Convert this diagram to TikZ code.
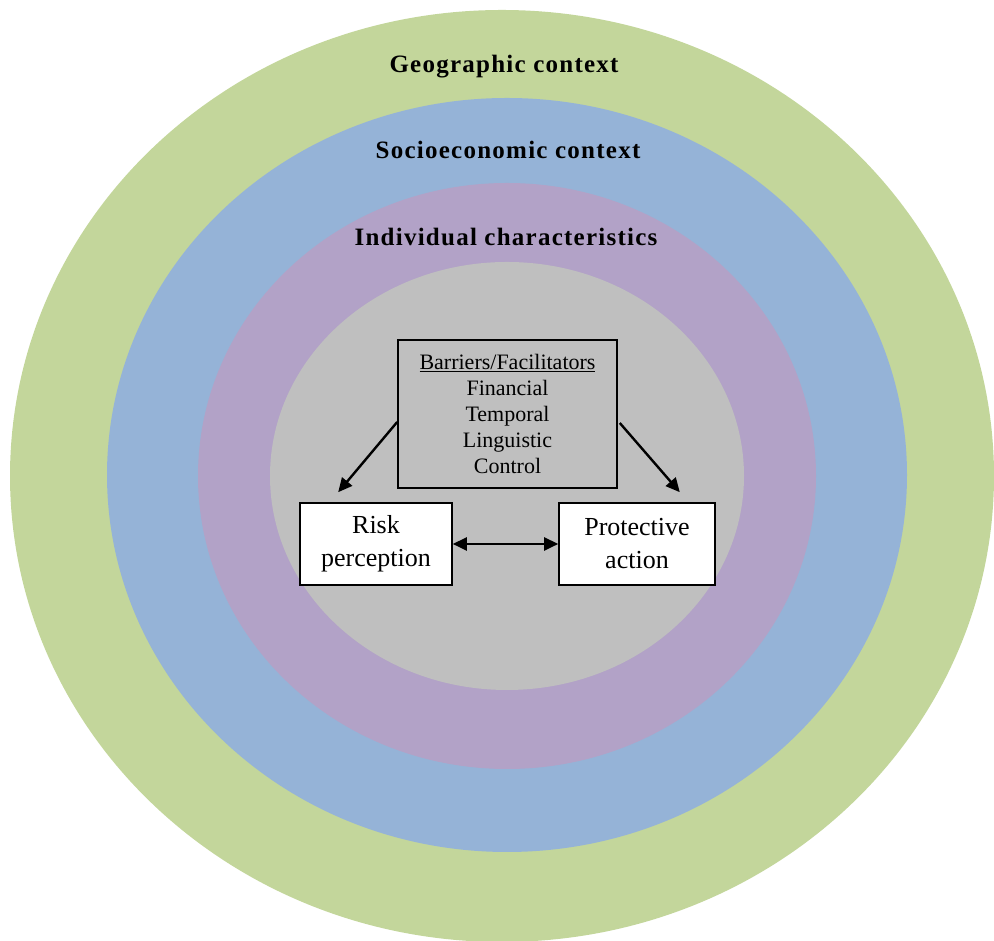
\documentclass[tikz,border=0pt]{standalone}
\usepackage{fontspec}
\setmainfont{Liberation Serif}
\newfontfamily\headfont[LetterSpace=5]{Liberation Serif}
\usetikzlibrary{positioning,arrows.meta}
\definecolor{geogreen}{RGB}{195,214,155}
\definecolor{socblue}{RGB}{149,179,215}
\definecolor{indpurple}{RGB}{178,162,199}
\definecolor{coregray}{RGB}{191,191,191}

\begin{document}
\begin{tikzpicture}[x=1pt, y=1pt,
  ctxlabel/.style={font=\headfont\bfseries\fontsize{25}{29}\selectfont},
  factorbox/.style={draw=black, line width=1.6pt, fill=white, align=center,
    minimum height=82pt, inner sep=0pt, font=\fontsize{26}{33}\selectfont},
  barbox/.style={draw=black, line width=1.6pt, fill=coregray, align=center,
    minimum width=219pt, minimum height=148pt, inner sep=0pt,
    font=\fontsize{22}{26}\selectfont},
  arr/.style={line width=2.4pt, -{Triangle[length=14pt,width=13pt]}},
  darr/.style={line width=2.4pt, {Triangle[length=14pt,width=13pt]}-{Triangle[length=14pt,width=13pt]}},
]
  \useasboundingbox (0,0) rectangle (994,941);

  % Nested context rings
  \fill[geogreen]  (502,465) ellipse [x radius=492, y radius=466];
  \fill[socblue]   (507,466) ellipse [x radius=400, y radius=377];
  \fill[indpurple] (507,465) ellipse [x radius=309, y radius=293];
  \fill[coregray]  (507,465) ellipse [x radius=237, y radius=214];

  % Ring labels
  \node[ctxlabel] (geo) at (504,874) {Geographic context};
  \node[ctxlabel] (soc) at (508,791) {Socioeconomic context};
  \node[ctxlabel] (ind) at (506,704) {Individual characteristics};

  % Core boxes
  \node[barbox] (bar) at (507.5,527) {\underline{Barriers/Facilitators}\\
    Financial\\ Temporal\\ Linguistic\\ Control};
  \node[factorbox, minimum width=152pt] (risk) at (376,397) {Risk\\ perception};
  \node[factorbox, minimum width=156pt] (prot) at (637,397) {Protective\\ action};

  % Arrows
  \draw[arr] ([yshift=-8pt]bar.west) -- ([xshift=39pt,yshift=10pt]risk.north west);
  \draw[arr] ([xshift=2pt,yshift=-9pt]bar.east) -- ([xshift=-36pt,yshift=10pt]prot.north east);
  \draw[darr] (risk.east) -- (prot.west);
\end{tikzpicture}
\end{document}
